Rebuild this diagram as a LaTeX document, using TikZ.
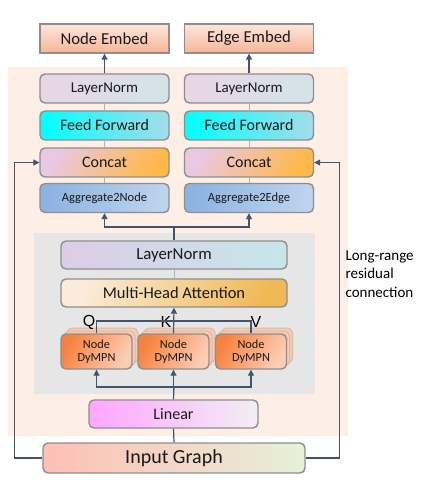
\documentclass[tikz,border=0pt]{standalone}
\usepackage{fontspec}
\setmainfont{Carlito}
\newfontfamily\qkvfont{Liberation Sans}
\usepackage{xcolor}
\usetikzlibrary{arrows.meta,positioning,calc}

\definecolor{peachbg}{HTML}{FDEEE6}
\definecolor{graybg}{HTML}{E6E6E6}
\definecolor{arrcol}{HTML}{44546A}
\definecolor{boxline}{HTML}{8E8E8E}
\definecolor{embtop}{HTML}{FDE6DC}
\definecolor{embbot}{HTML}{F7B597}
\definecolor{lnleft}{HTML}{E9D5E6}
\definecolor{lnright}{HTML}{D3E3E8}
\definecolor{ffright}{HTML}{A5DCEA}
\definecolor{ccleft}{HTML}{E9C8E2}
\definecolor{ccright}{HTML}{FFB84A}
\definecolor{agleft}{HTML}{8DB3E2}
\definecolor{agright}{HTML}{BDD3EE}
\definecolor{lmleft}{HTML}{DCCDE6}
\definecolor{lmright}{HTML}{C6E6EA}
\definecolor{mhleft}{HTML}{FBEBD9}
\definecolor{mhright}{HTML}{F0B956}
\definecolor{dyleft}{HTML}{F7823E}
\definecolor{dyright}{HTML}{FCCDB6}
\definecolor{dyback}{HTML}{F9CBB2}
\definecolor{liLeft}{HTML}{FFA5FF}
\definecolor{liRight}{HTML}{F2EEF4}
\definecolor{inLeft}{HTML}{FFBFB5}
\definecolor{inRight}{HTML}{E6F0D8}

\tikzset{
  box/.style={draw=boxline, line width=1.4pt, rounded corners=5pt, minimum width=129pt,
    minimum height=29pt, inner sep=0pt, font=\fontsize{16}{18}\selectfont, text=black!90},
  embed/.style={box, rounded corners=0pt, top color=embtop, bottom color=embbot,
    font=\fontsize{16.7}{18}\selectfont},
  lnorm/.style={box, left color=lnleft, right color=lnright, font=\fontsize{15}{17}\selectfont},
  ffwd/.style={box, left color=cyan, right color=ffright},
  concat/.style={box, left color=ccleft, right color=ccright, shading angle=60},
  aggr/.style={box, left color=agleft, right color=agright, shading angle=80,
    font=\fontsize{12.5}{14}\selectfont},
  dymp/.style={box, minimum width=71pt, minimum height=35pt, left color=dyleft,
    right color=dyright, shading angle=60, align=center, font=\fontsize{12.3}{15}\selectfont},
  dyghost/.style={draw=dyback!70!boxline, line width=1pt, rounded corners=5pt, minimum width=71pt,
    minimum height=35pt, fill=dyback},
  arr/.style={draw=arrcol, line width=1.2pt, -{Triangle[length=6pt,width=6pt]}},
  link/.style={draw=arrcol, line width=1.2pt},
  thin/.style={draw=gray!60, line width=1pt},
}

\begin{document}
\begin{tikzpicture}[x=1pt,y=-1pt]
\useasboundingbox (0,0) rectangle (422,486);

% Backgrounds
\fill[peachbg] (8,67) rectangle (348,436);
\fill[graybg] (34,233) rectangle (315,394);

% Output heads
\node[embed] (nembed) at (104.5,38.5) {Node Embed};
\node[embed] (eembed) at (249,38.5) {Edge Embed};

% Node / edge columns
\node[lnorm]  (ln1) at (104.5,88.5)  {LayerNorm};
\node[ffwd]   (ff1) at (104.5,125.5) {Feed Forward};
\node[concat] (cc1) at (104.5,162.5) {Concat};
\node[aggr]   (ag1) at (104.5,198)   {Aggregate2Node};
\node[lnorm]  (ln2) at (249,88.5)    {LayerNorm};
\node[ffwd]   (ff2) at (249,125.5)   {Feed Forward};
\node[concat] (cc2) at (249,162.5)   {Concat};
\node[aggr]   (ag2) at (249,198)     {Aggregate2Edge};

% Attention block
\node[box, minimum width=226pt, minimum height=28pt, left color=lmleft,
  right color=lmright, font=\fontsize{16.8}{18}\selectfont] (lnm) at (174,255) {LayerNorm};
\node[box, minimum width=226pt, minimum height=28pt, left color=mhleft,
  right color=mhright, shading angle=70, font=\fontsize{16.5}{18}\selectfont] (mha) at (174,293) {Multi-Head Attention};

\foreach \i/\x in {1/96.5,2/173.5,3/251}{
  \node[dyghost] at (\x+6,345.5) {};
  \node[dyghost] at (\x+3,348.5) {};
  \node[dymp] (dy\i) at (\x,351.5) {Node\\[-2pt]DyMPN};
}
\node[font=\qkvfont\fontsize{16}{16}\selectfont] (qlbl) at (89,322) {Q};
\node[font=\qkvfont\fontsize{16}{16}\selectfont] (klbl) at (166,322) {K};
\node[font=\qkvfont\fontsize{16}{16}\selectfont] (vlbl) at (256,322) {V};

% Input side
\node[box, minimum width=169pt, minimum height=28pt, left color=liLeft,
  right color=liRight] (lin) at (173.5,414) {Linear};
\node[box, minimum width=262pt, minimum height=30pt, left color=inLeft,
  right color=inRight, font=\fontsize{20}{22}\selectfont] (inp) at (174,458) {Input Graph};

\node[anchor=west, align=left, font=\fontsize{15}{18.5}\selectfont] (note) at (342,274)
  {Long-range\\residual\\connection};

% Connectors
\draw[arr] (ln1.north) -- (nembed.south);
\draw[arr] (ln2.north) -- (eembed.south);
\draw[thin] (ln1.south) -- (ff1.north) (ff1.south) -- (cc1.north) (cc1.south) -- (ag1.north);
\draw[thin] (ln2.south) -- (ff2.north) (ff2.south) -- (cc2.north) (cc2.south) -- (ag2.north);

\coordinate (split) at (174,227);
\draw[link] (lnm.north) -- (split);
\draw[arr] (split) -| (ag1.south);
\draw[arr] (split) -| (ag2.south);
\draw[thin] (lnm.south) -- (mha.north);

\coordinate (qkv) at (174,321);
\draw[link] (dy1.north) |- (qkv) -| (dy3.north);
\draw[arr] (dy2.north) -- (mha.south);

\coordinate (fan) at (174,387);
\draw[link] (lin.north) -- (fan);
\draw[arr] (fan) -| (dy1.south);
\draw[arr] (fan) -| (dy3.south);
\draw[arr] (lin.north) -- (dy2.south);
\draw[link] (inp.north) -- (lin.south);

% Long-range residual
\draw[arr] (inp.west) -- ++(-28,0) |- (cc1.west);
\draw[arr] (inp.east) -- ++(34,0) |- (cc2.east);
\end{tikzpicture}
\end{document}
